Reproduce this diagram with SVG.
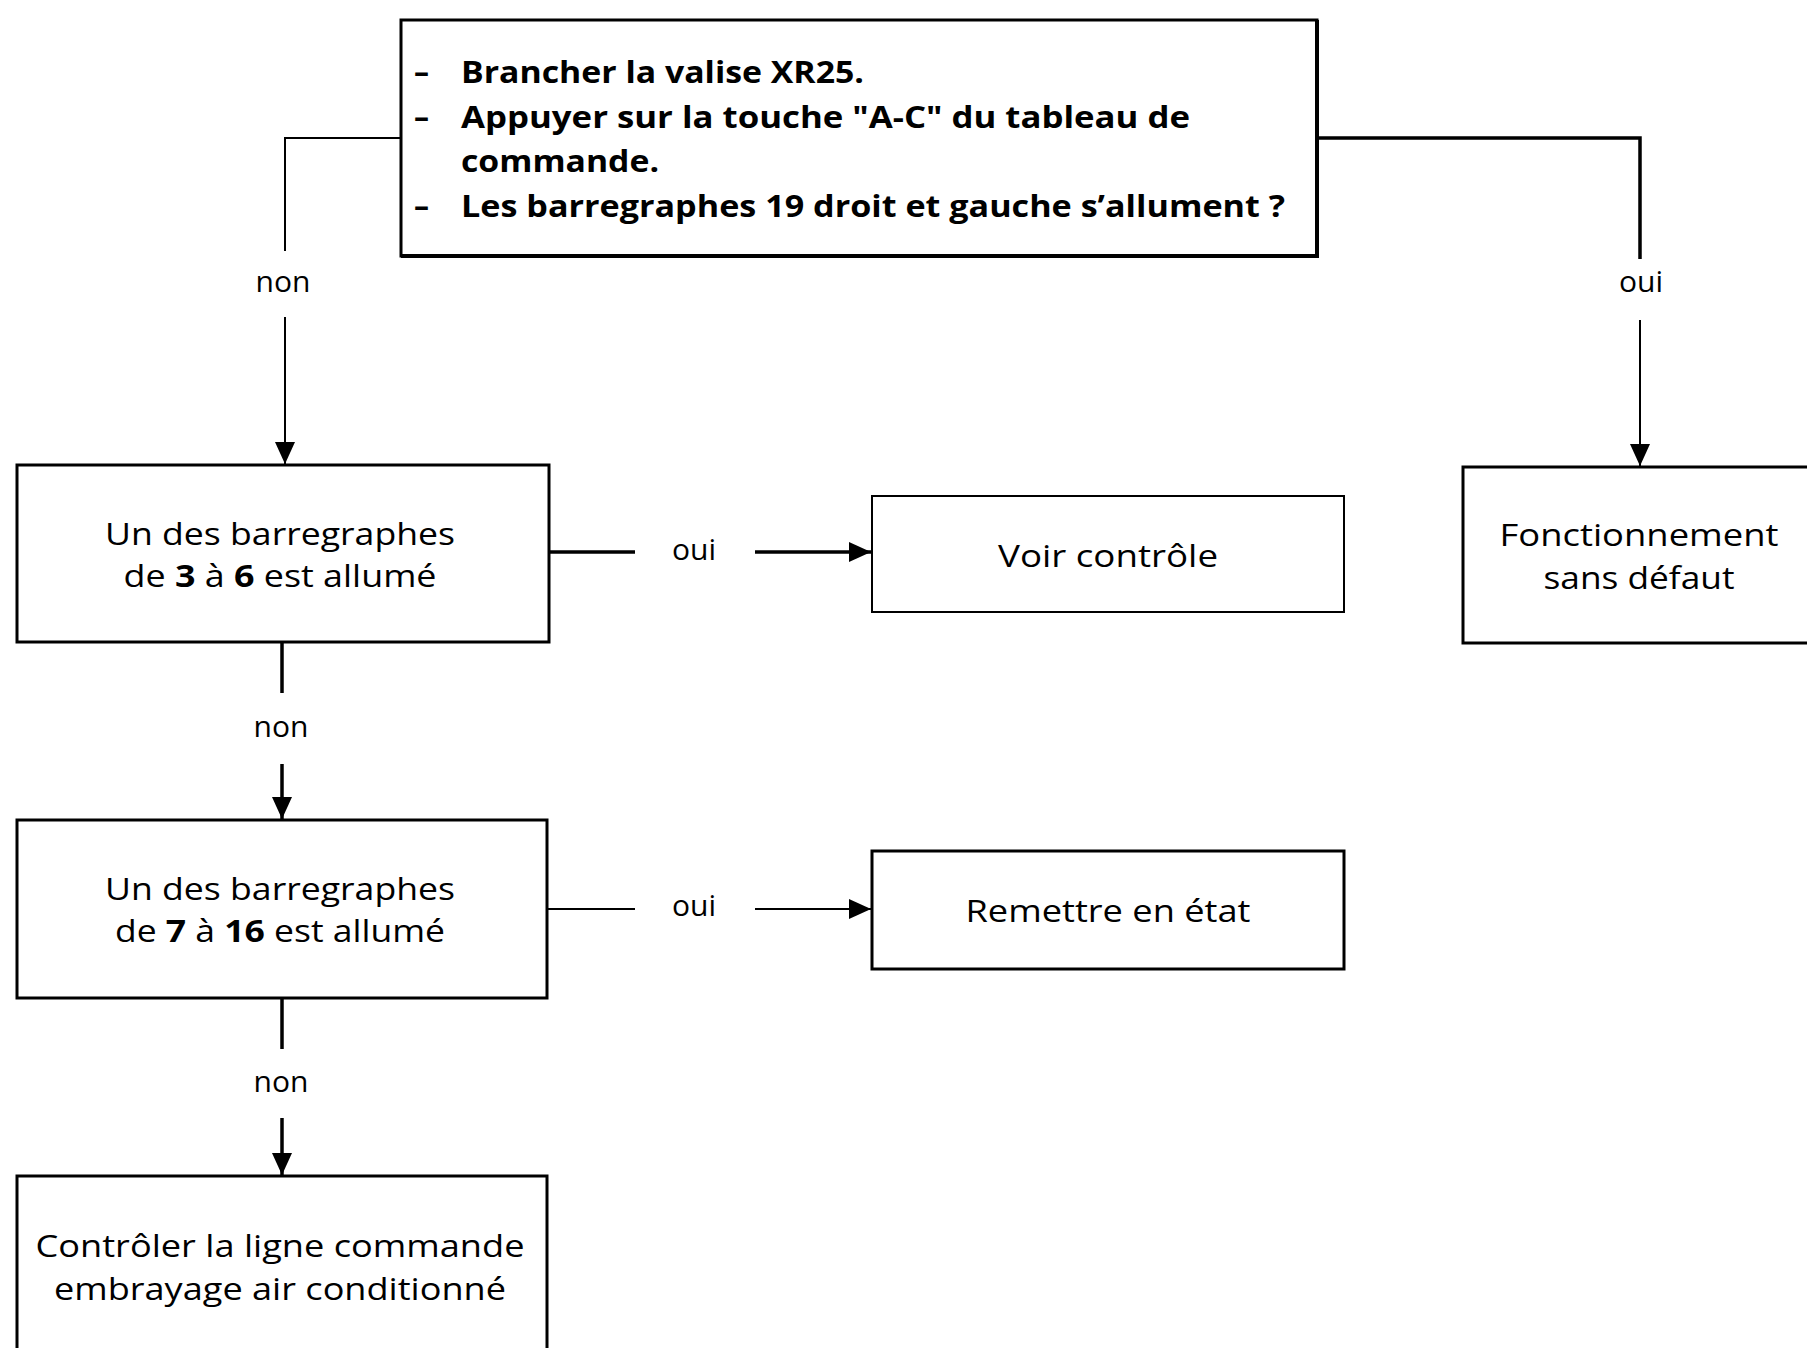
<svg xmlns="http://www.w3.org/2000/svg" width="1807" height="1348" viewBox="0 0 1807 1348">
  <style>
    .box { fill: #ffffff; stroke: #000000; stroke-width: 3; }
    .box-thin { fill: #ffffff; stroke: #000000; stroke-width: 2; }
    .edge { fill: none; stroke: #000000; stroke-width: 4; }
    .txt { font-family: "Open Sans", "Noto Sans", "Liberation Sans", sans-serif; font-size: 31px; fill: #000000; text-anchor: middle; }
    .b { font-weight: bold; }
    .q { font-family: "Open Sans", "Noto Sans", "Liberation Sans", sans-serif; font-size: 30px; font-weight: bold; fill: #000000; }
    .lbl { font-family: "Open Sans", "Noto Sans", "Liberation Sans", sans-serif; font-size: 30px; fill: #000000; text-anchor: middle; }
    .wire { fill: none; stroke: #000000; stroke-width: 2; }
    .wire-bold { fill: none; stroke: #000000; stroke-width: 3.5; }
  </style>
  <defs>
    <marker id="arrow" viewBox="0 0 22 20" refX="22" refY="10" markerWidth="22" markerHeight="20" markerUnits="userSpaceOnUse" orient="auto">
      <path d="M0,0 L22,10 L0,20 Z" fill="#000000"/>
    </marker>
  </defs>

  <rect width="1807" height="1348" fill="#ffffff"/>

  <!-- connectors -->
  <g id="connectors">
    <!-- question: non -->
    <path class="wire" d="M400,138 H285 V251"/>
    <path class="wire" d="M285,317 V464" marker-end="url(#arrow)"/>
    <text class="lbl" x="283" y="292">non</text>
    <!-- question: oui -->
    <path class="wire-bold" d="M1317,138 H1640 V259"/>
    <path class="wire" d="M1640,320 V466" marker-end="url(#arrow)"/>
    <text class="lbl" x="1641" y="292">oui</text>
    <!-- 3 to 6: oui -->
    <path class="wire-bold" d="M549,552 H635"/>
    <path class="wire-bold" d="M755,552 H871" marker-end="url(#arrow)"/>
    <text class="lbl" x="694" y="560">oui</text>
    <!-- 3 to 6: non -->
    <path class="wire-bold" d="M282,642 V693"/>
    <path class="wire-bold" d="M282,764 V819" marker-end="url(#arrow)"/>
    <text class="lbl" x="281" y="737">non</text>
    <!-- 7 to 16: oui -->
    <path class="wire" d="M547,909 H635"/>
    <path class="wire" d="M755,909 H871" marker-end="url(#arrow)"/>
    <text class="lbl" x="694" y="916">oui</text>
    <!-- 7 to 16: non -->
    <path class="wire-bold" d="M282,998 V1049"/>
    <path class="wire-bold" d="M282,1118 V1175" marker-end="url(#arrow)"/>
    <text class="lbl" x="281" y="1092">non</text>
  </g>

  <!-- starting question -->
  <g id="start">
    <rect class="box" x="401" y="20" width="916" height="236"/>
    <path class="edge" d="M1317,20 V256 H401"/>
    <text class="q" x="414" y="83">–</text>
    <text class="q" x="461" y="83" textLength="403" lengthAdjust="spacingAndGlyphs">Brancher la valise XR25.</text>
    <text class="q" x="414" y="128">–</text>
    <text class="q" x="461" y="128" textLength="729" lengthAdjust="spacingAndGlyphs">Appuyer sur la touche "A-C" du tableau de</text>
    <text class="q" x="461" y="172" textLength="198" lengthAdjust="spacingAndGlyphs">commande.</text>
    <text class="q" x="414" y="217">–</text>
    <text class="q" x="461" y="217" textLength="824" lengthAdjust="spacingAndGlyphs">Les barregraphes 19 droit et gauche s’allument ?</text>
  </g>

  <!-- check bargraphs 3 to 6 -->
  <g id="bars-3-6">
    <rect class="box" x="17" y="465" width="532" height="177"/>
    <text class="txt" x="280" y="545" textLength="350" lengthAdjust="spacingAndGlyphs">Un des barregraphes</text>
    <text class="txt" x="280" y="587" textLength="313" lengthAdjust="spacingAndGlyphs">de <tspan class="b">3</tspan> à <tspan class="b">6</tspan> est allumé</text>
  </g>

  <!-- see check -->
  <g id="voir-controle">
    <rect class="box-thin" x="872" y="496" width="472" height="116"/>
    <text class="txt" x="1108" y="567" textLength="220" lengthAdjust="spacingAndGlyphs">Voir contrôle</text>
  </g>

  <!-- check bargraphs 7 to 16 -->
  <g id="bars-7-16">
    <rect class="box" x="17" y="820" width="530" height="178"/>
    <text class="txt" x="280" y="900" textLength="350" lengthAdjust="spacingAndGlyphs">Un des barregraphes</text>
    <text class="txt" x="280" y="942" textLength="330" lengthAdjust="spacingAndGlyphs">de <tspan class="b">7</tspan> à <tspan class="b">16</tspan> est allumé</text>
  </g>

  <!-- repair -->
  <g id="remettre">
    <rect class="box" x="872" y="851" width="472" height="118"/>
    <text class="txt" x="1108" y="922" textLength="285" lengthAdjust="spacingAndGlyphs">Remettre en état</text>
  </g>

  <!-- check clutch control line -->
  <g id="controler-ligne">
    <rect class="box" x="17" y="1176" width="530" height="220"/>
    <text class="txt" x="280" y="1257" textLength="489" lengthAdjust="spacingAndGlyphs">Contrôler la ligne commande</text>
    <text class="txt" x="280" y="1300" textLength="452" lengthAdjust="spacingAndGlyphs">embrayage air conditionné</text>
  </g>

  <!-- working correctly -->
  <g id="sans-defaut">
    <rect class="box" x="1463" y="467" width="380" height="176"/>
    <text class="txt" x="1639" y="546" textLength="279" lengthAdjust="spacingAndGlyphs">Fonctionnement</text>
    <text class="txt" x="1639" y="589" textLength="191" lengthAdjust="spacingAndGlyphs">sans défaut</text>
  </g>
</svg>
